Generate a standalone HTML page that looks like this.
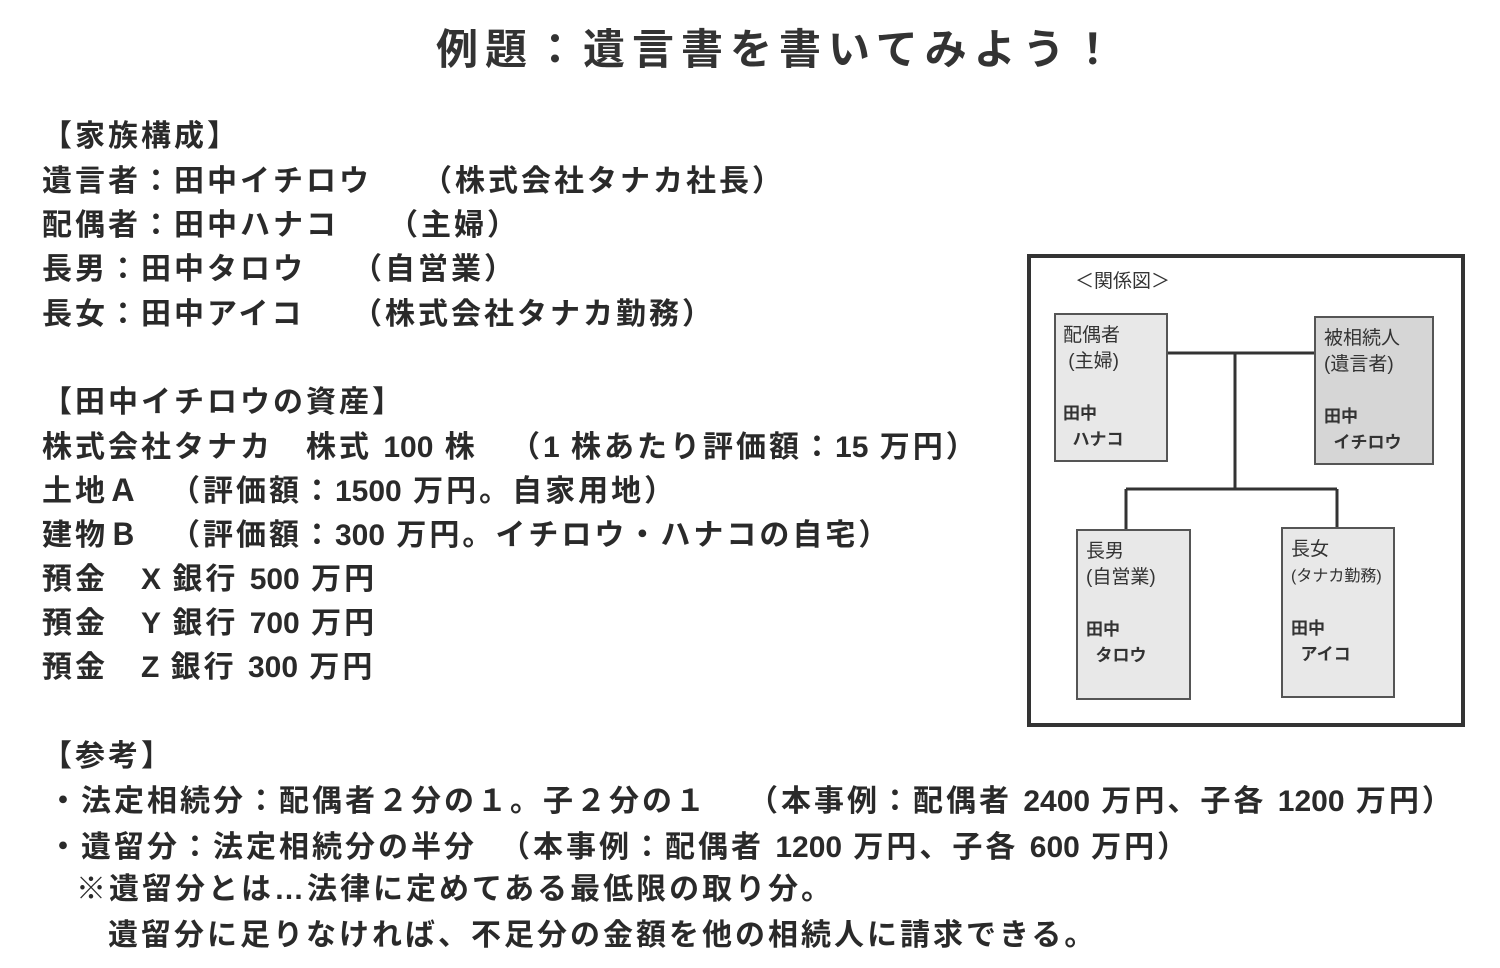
<!DOCTYPE html>
<html><head><meta charset="utf-8"><style>
body{margin:0;width:1500px;height:968px;background:#fff;position:relative;overflow:hidden;font-family:"Liberation Sans","Noto Sans CJK JP",sans-serif;color:#2a2a2a}
.t{position:absolute;white-space:pre;font-size:30px;font-weight:bold;letter-spacing:3px;line-height:34px}
.n{letter-spacing:0}
.title{position:absolute;left:436px;top:16px;font-size:42px;font-weight:bold;letter-spacing:7px;white-space:pre;color:#333}
.box{position:absolute;border:2px solid #555;background:#e8e8e8;font-size:19px;line-height:26px;color:#333;box-sizing:border-box}
.box b{font-size:17px}
</style></head><body>
<div class="title">例題：遺言書を書いてみよう！</div>

<div class="t" style="left:42px;top:120px">【家族構成】</div>
<div class="t" style="left:42px;top:165px">遺言者：田中イチロウ</div><div class="t" style="left:422px;top:165px">（株式会社タナカ社長）</div>
<div class="t" style="left:42px;top:209px">配偶者：田中ハナコ</div><div class="t" style="left:388px;top:209px">（主婦）</div>
<div class="t" style="left:42px;top:253px">長男：田中タロウ</div><div class="t" style="left:352px;top:253px">（自営業）</div>
<div class="t" style="left:42px;top:298px">長女：田中アイコ</div><div class="t" style="left:352px;top:298px">（株式会社タナカ勤務）</div>

<div class="t" style="left:42px;top:386px">【田中イチロウの資産】</div>
<div class="t" style="left:42px;top:431px">株式会社タナカ　株式 <span class="n">100</span> 株</div><div class="t" style="left:510px;top:431px">（<span class="n">1</span> 株あたり評価額：<span class="n">15</span> 万円）</div>
<div class="t" style="left:42px;top:475px">土地Ａ</div><div class="t" style="left:170px;top:475px">（評価額：<span class="n">1500</span> 万円。自家用地）</div>
<div class="t" style="left:42px;top:519px">建物Ｂ</div><div class="t" style="left:170px;top:519px">（評価額：<span class="n">300</span> 万円。イチロウ・ハナコの自宅）</div>
<div class="t" style="left:42px;top:563px">預金　<span class="n">X</span> 銀行 <span class="n">500</span> 万円</div>
<div class="t" style="left:42px;top:607px">預金　<span class="n">Y</span> 銀行 <span class="n">700</span> 万円</div>
<div class="t" style="left:42px;top:651px">預金　<span class="n">Z</span> 銀行 <span class="n">300</span> 万円</div>

<div class="t" style="left:42px;top:740px">【参考】</div>
<div class="t" style="left:48px;top:785px">・法定相続分：配偶者２分の１。子２分の１</div><div class="t" style="left:748px;top:785px">（本事例：配偶者 <span class="n">2400</span> 万円、子各 <span class="n">1200</span> 万円）</div>
<div class="t" style="left:48px;top:831px">・遺留分：法定相続分の半分</div><div class="t" style="left:500px;top:831px">（本事例：配偶者 <span class="n">1200</span> 万円、子各 <span class="n">600</span> 万円）</div>
<div class="t" style="left:76px;top:873px">※遺留分とは…法律に定めてある最低限の取り分。</div>
<div class="t" style="left:108px;top:919px">遺留分に足りなければ、不足分の金額を他の相続人に請求できる。</div>

<div style="position:absolute;left:1027px;top:254px;width:438px;height:473px;border:4px solid #333;box-sizing:border-box"></div>
<div style="position:absolute;left:1075px;top:266px;font-size:19px;color:#333;white-space:pre">＜関係図＞</div>
<svg style="position:absolute;left:0;top:0" width="1500" height="968">
<g stroke="#333" stroke-width="3" fill="none">
<line x1="1167" y1="353" x2="1314" y2="353"/>
<line x1="1235" y1="353" x2="1235" y2="489"/>
<line x1="1126" y1="489" x2="1337" y2="489"/>
<line x1="1126" y1="489" x2="1126" y2="530"/>
<line x1="1337" y1="489" x2="1337" y2="528"/>
</g></svg>
<div class="box" style="left:1054px;top:313px;width:114px;height:149px;padding:8px 0 0 7px">配偶者<br>&nbsp;(主婦)<br><br><b>田中</b><br><b>&nbsp;&nbsp;ハナコ</b></div>
<div class="box" style="left:1314px;top:316px;width:120px;height:149px;padding:8px 0 0 8px;background:#d6d6d6">被相続人<br>(遺言者)<br><br><b>田中</b><br><b>&nbsp;&nbsp;イチロウ</b></div>
<div class="box" style="left:1076px;top:529px;width:115px;height:171px;padding:8px 0 0 8px">長男<br>(自営業)<br><br><b>田中</b><br><b>&nbsp;&nbsp;タロウ</b></div>
<div class="box" style="left:1281px;top:527px;width:114px;height:171px;padding:8px 0 0 8px">長女<br><span style="font-size:16px">(タナカ勤務)</span><br><br><b>田中</b><br><b>&nbsp;&nbsp;アイコ</b></div>
</body></html>
